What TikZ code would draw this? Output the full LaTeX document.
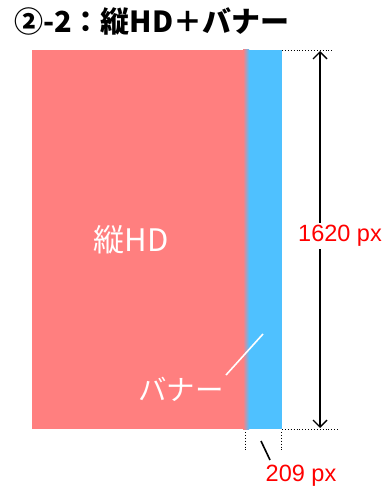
\documentclass[tikz,border=0pt]{standalone}
\usepackage{fontspec}
\setmainfont{Liberation Sans}
\newfontfamily\jp{Noto Sans CJK JP}
\usetikzlibrary{arrows.meta}
\definecolor{hdpink}{HTML}{FF7F7F}
\definecolor{bnblue}{HTML}{4FC1FF}
\definecolor{dimred}{HTML}{FF0000}
\tikzset{
  dimline/.style={line width=0.9pt, dotted, black},
  dimarrow/.style={line width=1.4pt, black, {Straight Barb[length=7pt,width=14pt]}-{Straight Barb[length=7pt,width=14pt]}},
  dimlabel/.style={text=dimred, font=\fontsize{23.5}{26}\selectfont, inner sep=1pt},
  leader/.style={line width=1.6pt},
}
\begin{document}
\begin{tikzpicture}[x=1pt,y=-1pt]
\useasboundingbox (0,0) rectangle (385,489);
% title
\node[anchor=west, inner sep=0pt, font=\jp\bfseries\fontsize{29}{32}\selectfont] (title) at (14,21) {②-2：縦HD＋バナー};
% rectangles
\fill[hdpink] (32,50) rectangle (245,429);
\fill[bnblue] (247,50) rectangle (282,429);
\shade[left color=hdpink, right color=bnblue] (243,50) rectangle (249,429);
\node[text=white, font=\jp\fontsize{31}{34}\selectfont] (hdlabel) at (131,240) {縦HD};
\node[text=white, font=\jp\fontsize{28.5}{32}\selectfont] (bnlabel) at (181,389) {バナー};
\coordinate (bnlinea) at (226,375);
\coordinate (bnlineb) at (263,334);
\draw[white, leader] (bnlinea) -- (bnlineb);
% dimension lines
\coordinate (tr) at (282,50);
\coordinate (trend) at (334,50);
\coordinate (br) at (282,429);
\coordinate (brend) at (338,429);
\draw[dimline] (tr) -- (trend);
\draw[dimline] (br) -- (brend);
\coordinate (arrtop) at (320,51);
\coordinate (arrbot) at (320,428);
\draw[dimarrow] (arrtop) -- (arrbot);
\node[dimlabel, fill=white, inner sep=2pt] (hlabel) at (340,236) {1620 px};
\coordinate (vl1) at (245,432);
\coordinate (vl1e) at (245,451);
\coordinate (vl2) at (281,432);
\coordinate (vl2e) at (281,451);
\draw[dimline] (vl1) -- (vl1e);
\draw[dimline] (vl2) -- (vl2e);
\coordinate (lda) at (261,441);
\coordinate (ldb) at (270,460);
\draw[leader, black] (lda) -- (ldb);
\node[dimlabel] (wlabel) at (301,476) {209 px};
\end{tikzpicture}
\end{document}
